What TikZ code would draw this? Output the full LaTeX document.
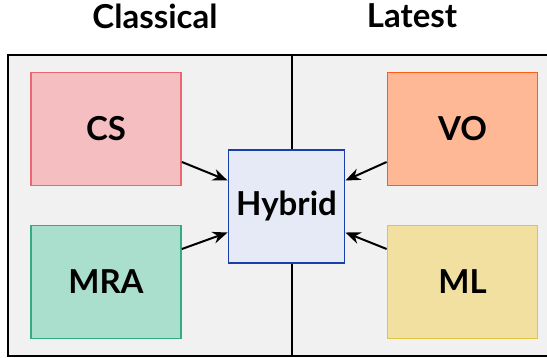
\documentclass[tikz,border=0pt]{standalone}
\usepackage{fontspec}
\setmainfont{Lato}
\usetikzlibrary{arrows.meta}
\definecolor{panelbg}{HTML}{F1F1F1}
\definecolor{csfill}{HTML}{F5BFC2}\definecolor{csline}{HTML}{EA6670}
\definecolor{mrafill}{HTML}{AADFCE}\definecolor{mraline}{HTML}{33AC84}
\definecolor{vofill}{HTML}{FFB896}\definecolor{voline}{HTML}{FF5C14}
\definecolor{mlfill}{HTML}{F1E0A0}\definecolor{mlline}{HTML}{E2C344}
\definecolor{hyfill}{HTML}{E6E9F6}\definecolor{hyline}{HTML}{1B3FAA}
\tikzset{
  x=1pt, y=1pt,
  method/.style={draw, line width=1.8pt, minimum width=150pt, minimum height=113pt,
    font=\fontsize{33}{36}\selectfont\bfseries, inner sep=0pt},
  hub/.style={method, minimum width=116pt, minimum height=113pt},
  heading/.style={font=\fontsize{33}{36}\selectfont\bfseries, inner sep=0pt},
  feed/.style={-{Stealth[length=15pt, width=12pt]}, line width=2pt}
}
\begin{document}
\begin{tikzpicture}
\useasboundingbox (0,0) rectangle (547,-358);
\begin{scope}
\clip (0,0) rectangle (547,-358);
\draw[fill=panelbg, line width=2.4pt] (8,-55) rectangle (560,-356);
\draw[line width=2pt] (292,-55) -- (292,-356);
\end{scope}
\node[heading] (classical) at (155,-16) {Classical};
\node[heading] (latest) at (412,-16) {Latest};
\node[method, fill=csfill, draw=csline] (cs) at (106,-129) {CS};
\node[method, fill=mrafill, draw=mraline] (mra) at (106,-282) {MRA};
\node[method, fill=vofill, draw=voline] (vo) at (462.5,-129) {VO};
\node[method, fill=mlfill, draw=mlline] (ml) at (462.5,-282) {ML};
\node[hub, fill=hyfill, draw=hyline] (hybrid) at (286.5,-206.5) {Hybrid};
\draw[feed] ([yshift=-33pt]cs.east) -- ([yshift=26pt]hybrid.west);
\draw[feed] ([yshift=33pt]mra.east) -- ([yshift=-26pt]hybrid.west);
\draw[feed] ([yshift=-33pt]vo.west) -- ([yshift=26pt]hybrid.east);
\draw[feed] ([yshift=33pt]ml.west) -- ([yshift=-26pt]hybrid.east);
\end{tikzpicture}
\end{document}
